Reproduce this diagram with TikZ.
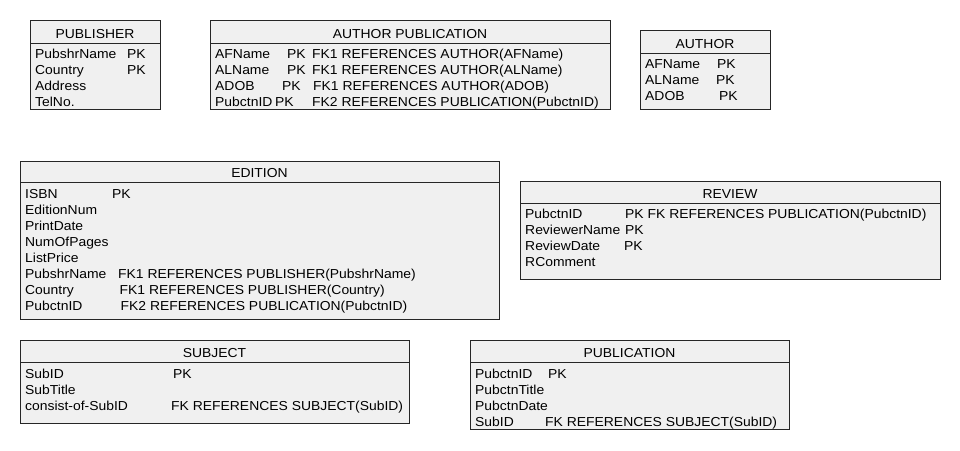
\documentclass[tikz,border=0pt]{standalone}
\usepackage{fontspec}
\setmainfont{Liberation Sans}[FakeStretch=1.07]
\begin{document}
\begin{tikzpicture}[x=1pt,y=-1pt,
  tblbox/.style={draw=black!85,line width=0.9pt},
  tblfill/.style={fill=black!6},
  ttl/.style={anchor=base,inner sep=0pt,font=\fontsize{13}{16}\selectfont},
  txt/.style={anchor=base west,inner sep=0pt,font=\fontsize{13}{16}\selectfont}]
\useasboundingbox[fill=white] (0,0) rectangle (960,450);
\newcommand\tbl[7]{%
  \fill[tblfill] (#2,#3) rectangle (#4,#5);
  \draw[tblbox] (#2,#6) -- (#4,#6);
  \draw[tblbox] (#2,#3) rectangle (#4,#5);
  \node[ttl] (#1-t) at ({(#2+#4)/2},#6-4.5) {#7};}
% PUBLISHER
\tbl{pub}{30}{20}{160}{109}{43}{PUBLISHER}
\node[txt] (pub-a1) at (35,58) {PubshrName};  \node[txt] (pub-k1) at (127,58) {PK};
\node[txt] (pub-a2) at (35,74) {Country};     \node[txt] (pub-k2) at (127,74) {PK};
\node[txt] (pub-a3) at (35,90) {Address};
\node[txt] (pub-a4) at (35,106) {TelNo.};
% AUTHOR PUBLICATION
\tbl{ap}{210}{20}{610}{109}{43}{AUTHOR PUBLICATION}
\node[txt] (ap-a1) at (215,58) {AFName};   \node[txt] (ap-k1) at (287,58) {PK}; \node[txt] (ap-f1) at (312,58) {FK1 REFERENCES AUTHOR(AFName)};
\node[txt] (ap-a2) at (215,74) {ALName};   \node[txt] (ap-k2) at (287,74) {PK}; \node[txt] (ap-f2) at (312,74) {FK1 REFERENCES AUTHOR(ALName)};
\node[txt] (ap-a3) at (215,90) {ADOB};     \node[txt] (ap-k3) at (282,90) {PK}; \node[txt] (ap-f3) at (313,90) {FK1 REFERENCES AUTHOR(ADOB)};
\node[txt] (ap-a4) at (215,106) {PubctnID}; \node[txt] (ap-k4) at (275,106) {PK}; \node[txt] (ap-f4) at (312,106) {FK2 REFERENCES PUBLICATION(PubctnID)};
% AUTHOR
\tbl{au}{640}{30}{770}{109}{53}{AUTHOR}
\node[txt] (au-a1) at (645,68) {AFName}; \node[txt] (au-k1) at (717,68) {PK};
\node[txt] (au-a2) at (645,84) {ALName}; \node[txt] (au-k2) at (716,84) {PK};
\node[txt] (au-a3) at (645,100) {ADOB};  \node[txt] (au-k3) at (719,100) {PK};
% EDITION
\tbl{ed}{20}{161}{499}{319}{182}{EDITION}
\node[txt] (ed-a1) at (25,198) {ISBN}; \node[txt] (ed-k1) at (112,198) {PK};
\node[txt] (ed-a2) at (25,214) {EditionNum};
\node[txt] (ed-a3) at (25,230) {PrintDate};
\node[txt] (ed-a4) at (25,246) {NumOfPages};
\node[txt] (ed-a5) at (25,262) {ListPrice};
\node[txt] (ed-a6) at (25,278) {PubshrName}; \node[txt] (ed-f6) at (118,278) {FK1 REFERENCES PUBLISHER(PubshrName)};
\node[txt] (ed-a7) at (25,294) {Country};    \node[txt] (ed-f7) at (119.5,294) {FK1 REFERENCES PUBLISHER(Country)};
\node[txt] (ed-a8) at (25,310) {PubctnID};   \node[txt] (ed-f8) at (120.5,310) {FK2 REFERENCES PUBLICATION(PubctnID)};
% REVIEW
\tbl{rv}{520}{181}{940}{279}{203}{REVIEW}
\node[txt] (rv-a1) at (525,218) {PubctnID};     \node[txt] (rv-k1) at (625,218) {PK FK REFERENCES PUBLICATION(PubctnID)};
\node[txt] (rv-a2) at (525,234) {ReviewerName}; \node[txt] (rv-k2) at (625,234) {PK};
\node[txt] (rv-a3) at (525,250) {ReviewDate};   \node[txt] (rv-k3) at (624,250) {PK};
\node[txt] (rv-a4) at (525,266) {RComment};
% SUBJECT
\tbl{sb}{20}{340}{409}{423}{362}{SUBJECT}
\node[txt] (sb-a1) at (25,378) {SubID};           \node[txt] (sb-k1) at (173,378) {PK};
\node[txt] (sb-a2) at (25,394) {SubTitle};
\node[txt] (sb-a3) at (25,410) {consist-of-SubID}; \node[txt] (sb-f3) at (171,410) {FK REFERENCES SUBJECT(SubID)};
% PUBLICATION
\tbl{pc}{470}{340}{789}{429}{362}{PUBLICATION}
\node[txt] (pc-a1) at (475,378) {PubctnID};    \node[txt] (pc-k1) at (548,378) {PK};
\node[txt] (pc-a2) at (475,394) {PubctnTitle};
\node[txt] (pc-a3) at (475,410) {PubctnDate};
\node[txt] (pc-a4) at (475,426) {SubID};       \node[txt] (pc-f4) at (545,426) {FK REFERENCES SUBJECT(SubID)};
\end{tikzpicture}
\end{document}
